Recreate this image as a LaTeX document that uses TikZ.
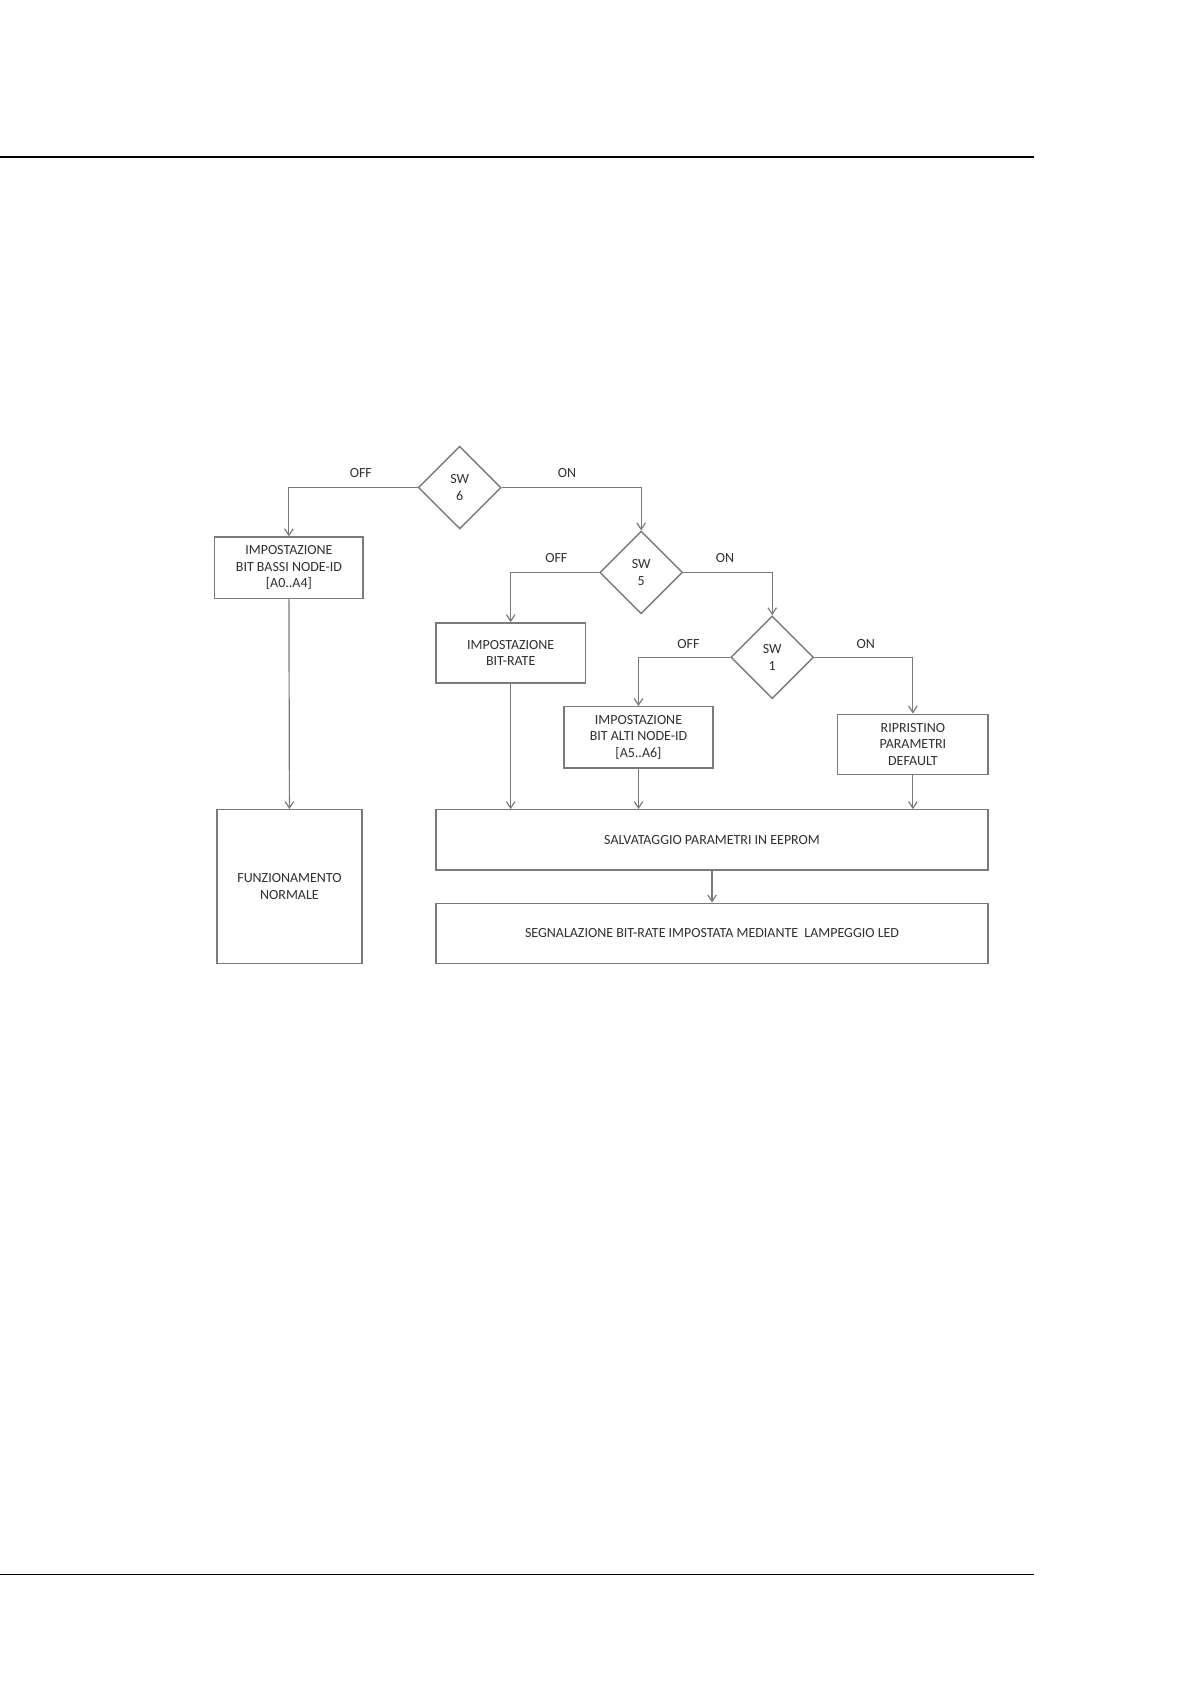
\documentclass[tikz,border=0pt]{standalone}
\usepackage{fontspec}
\setmainfont{Carlito}
\usetikzlibrary{shapes.geometric,arrows.meta}
\definecolor{ln}{HTML}{7A7A7A}
\definecolor{tx}{HTML}{303030}
\tikzset{
  box/.style={draw=ln, line width=1.3pt, rectangle, align=center, text=tx, font=\fontsize{13}{15.5}\selectfont, inner sep=2pt},
  dia/.style={draw=ln, line width=1.3pt, diamond, aspect=1, minimum width=77pt, minimum height=77pt, inner sep=0pt, align=center, text=tx, font=\fontsize{13}{15.5}\selectfont},
  lbl/.style={text=tx, font=\fontsize{13}{15.5}\selectfont, inner sep=0pt},
  conn/.style={draw=ln, line width=1.1pt, -{Straight Barb[length=6pt,width=8pt]}},
  rule/.style={draw=black, line width=1.6pt}
}
\begin{document}
\begin{tikzpicture}[x=1pt,y=-1pt]
\useasboundingbox (0,0) rectangle (1108,1568);
\fill[white] (0,0) rectangle (1108,1568);
% page rules
\coordinate (t1) at (0,146);
\coordinate (t2) at (963,146);
\coordinate (b1) at (0,1466);
\coordinate (b2) at (963,1466);
\draw[rule] (t1) -- (t2);
\draw[rule] (b1) -- (b2);
% decisions
\node[dia] (sw6) at (428,454) {SW\\6};
\node[dia] (sw5) at (597,533) {SW\\5};
\node[dia] (sw1) at (719,612) {SW\\1};
% boxes
\node[box, minimum width=138pt, minimum height=57pt] (b1n) at (269,528.5) {IMPOSTAZIONE\\BIT BASSI NODE-ID\\{[A0..A4]}};
\node[box, minimum width=139pt, minimum height=56pt] (b2n) at (475.5,608) {IMPOSTAZIONE\\BIT-RATE};
\node[box, minimum width=139pt, minimum height=57pt] (b3n) at (594.5,686.5) {IMPOSTAZIONE\\BIT ALTI NODE-ID\\{[A5..A6]}};
\node[box, minimum width=140pt, minimum height=56pt] (b4n) at (850,693) {RIPRISTINO\\PARAMETRI\\DEFAULT};
\node[box, minimum width=135pt, minimum height=143pt] (b5n) at (269.5,825.5) {FUNZIONAMENTO\\NORMALE};
\node[box, minimum width=514pt, minimum height=56pt] (b6n) at (663,782) {SALVATAGGIO PARAMETRI IN EEPROM};
\node[box, minimum width=514pt, minimum height=56pt] (b7n) at (663,869) {SEGNALAZIONE BIT-RATE IMPOSTATA MEDIANTE\ \ LAMPEGGIO LED};
% labels
\node[lbl] (l6off) at (336,440) {OFF};
\node[lbl] (l6on) at (528,440) {ON};
\node[lbl] (l5off) at (518,520) {OFF};
\node[lbl] (l5on) at (675,520) {ON};
\node[lbl] (l1off) at (641,600) {OFF};
\node[lbl] (l1on) at (806,600) {ON};
% connectors
\draw[conn] (sw6.west) -| (b1n.north);
\draw[conn] (sw6.east) -| (sw5.north);
\draw[conn] (sw5.west) -| (b2n.north);
\draw[conn] (sw5.east) -| (sw1.north);
\draw[conn] (sw1.west) -| (b3n.north);
\draw[conn] (sw1.east) -| (b4n.north);
\draw[conn] (b1n.south) -- (b5n.north);
\draw[conn] (b2n.south) -- (b2n.south |- b6n.north);
\draw[conn] (b3n.south) -- (b3n.south |- b6n.north);
\draw[conn] (b4n.south) -- (b4n.south |- b6n.north);
\draw[conn] (b6n.south) -- (b7n.north);
\end{tikzpicture}
\end{document}
